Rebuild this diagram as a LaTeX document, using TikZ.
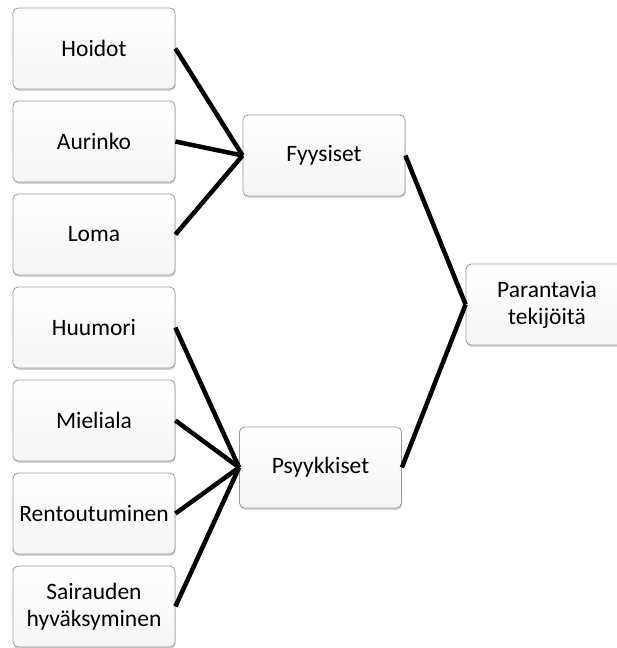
\documentclass[tikz,border=0pt]{standalone}
\usepackage{fontspec}
\setmainfont{Carlito}
\usepackage{xcolor}
\definecolor{edge}{HTML}{9A9A9A}
\definecolor{ink}{HTML}{000000}
\usepackage{tikz}
\usetikzlibrary{shadows,positioning}

\begin{document}
\begin{tikzpicture}[x=1pt,y=-1pt,font=\fontsize{23.5}{27}\selectfont,
  box/.style={draw=edge,line width=0.8pt,rounded corners=5pt,top color=white,bottom color=gray!7,
    minimum width=162pt,minimum height=81pt,inner sep=1pt,align=center,text=ink,
    drop shadow={opacity=0.35,shadow xshift=0.6pt,shadow yshift=-1.8pt}},
  link/.style={ink,line width=4.5pt}]
  \useasboundingbox (0,0) rectangle (617,648);
  % vasen sarake : nimi, teksti, rivi
  \foreach \n/\t/\r in {hoi/Hoidot/0,aur/Aurinko/1,loma/Loma/2,huu/Huumori/3,
      mie/Mieliala/4,ren/Rentoutuminen/5,sai/{Sairauden\\hyväksyminen}/6}
    \node[box] (\n) at (94,48.5+93*\r) {\t};
  % ryhmat
  \node[box] (fyy) at (324,155.5) {Fyysiset};
  \node[box] (psy) at (320.5,467.5) {Psyykkiset};
  \node[box] (par) at (547,304.5) {Parantavia\\tekijöitä};
  % yhteydet
  \foreach \n in {hoi,aur,loma} \draw[link] (\n.east) -- (fyy.west);
  \foreach \n in {huu,mie,ren,sai} \draw[link] (\n.east) -- (psy.west);
  \draw[link] (fyy.east) -- (par.west);
  \draw[link] (psy.east) -- (par.west);
\end{tikzpicture}
\end{document}
